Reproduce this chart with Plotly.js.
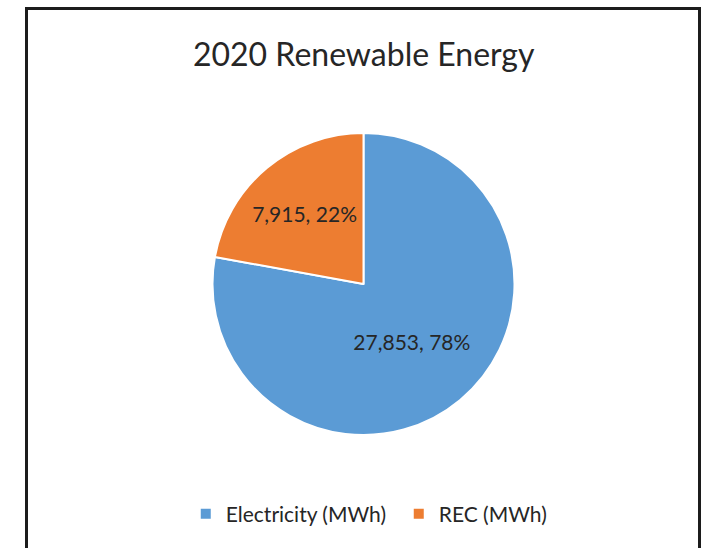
<!DOCTYPE html>
<html>
<head>
<meta charset="utf-8">
<script src="https://cdn.plot.ly/plotly-3.0.1.min.js"></script>
<style>
  html, body { margin: 0; padding: 0; background: #fff; }
  #wrap { position: relative; width: 709px; height: 548px; overflow: hidden; }
  #chart { position: absolute; left: 0; top: 0; width: 709px; height: 548px; }
  #frame {
    position: absolute; left: 25px; top: 7px; width: 670px; height: 538px;
    border-left: 3px solid #1c1c1c; border-top: 3px solid #1c1c1c; border-right: 3px solid #1c1c1c;
    border-bottom: 1px solid #d9d9d9; pointer-events: none;
  }
</style>
</head>
<body>
<div id="wrap">
  <div id="chart"></div>
  <div id="frame"></div>
</div>
<script>
const chartTitle = "2020 Renewable Energy";
const categories = ["Electricity (MWh)", "REC (MWh)"];
const values = [27853, 7915];
const colors = ["#5B9BD5", "#ED7D31"];

const FONT = "Lato, 'Open Sans', sans-serif";

const data = [{
  type: "pie",
  labels: categories,
  values: values,
  sort: false,
  direction: "clockwise",
  rotation: 0,
  marker: { colors: colors, line: { color: "#ffffff", width: 2 } },
  textposition: "inside",
  insidetextorientation: "horizontal",
  texttemplate: "%{value:,}, %{percent:.0%}",
  insidetextfont: { family: FONT, size: 21, color: "#262626" },
  hoverinfo: "label+value+percent"
}];

const layout = {
  width: 709, height: 548,
  margin: { l: 18, r: 0, t: 133, b: 113 },
  paper_bgcolor: "#ffffff",
  font: { family: FONT, color: "#262626" },
  title: {
    text: chartTitle,
    font: { family: FONT, size: 32, color: "#262626" },
    x: 0.513, xanchor: "center", xref: "container",
    y: 0.90, yanchor: "middle", yref: "container"
  },
  showlegend: true,
  legend: {
    orientation: "h",
    x: 0.262, xanchor: "left", xref: "container",
    y: 0.062, yanchor: "middle", yref: "container",
    entrywidth: 168, entrywidthmode: "pixels",
    font: { family: FONT, size: 21, color: "#262626" },
    itemclick: false, itemdoubleclick: false
  }
};

Plotly.newPlot("chart", data, layout, { displayModeBar: false, staticPlot: true });
</script>
</body>
</html>
